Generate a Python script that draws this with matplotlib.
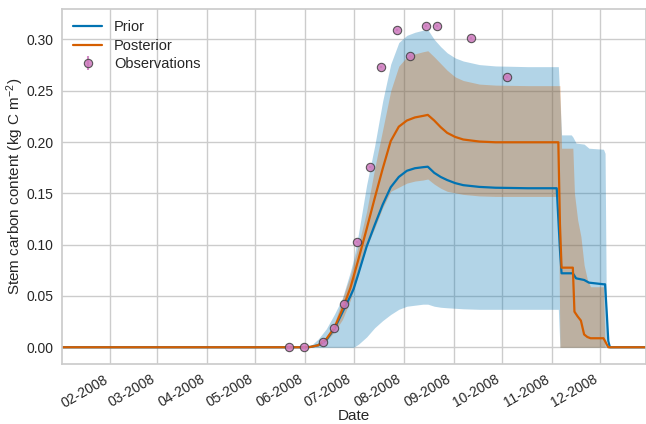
import matplotlib

matplotlib.use("Agg")
import matplotlib.dates as mdates
import matplotlib.pyplot as plt
import numpy as np
import pandas as pd
import seaborn as sns

# ---- data -----------------------------------------------------------------
START = pd.Timestamp("2008-01-01")

# prior ensemble: day offset from START, mean and 5-95 % envelope
prior_day = [1, 150, 155, 160, 165, 170, 175, 180, 182, 185, 190, 195, 200,
             205, 210, 215, 220, 225, 228, 232, 236, 240, 245, 250, 260, 270,
             290, 308, 309, 310, 311, 317, 318, 320, 325, 328, 337, 338, 339,
             340, 341, 364]
prior_mean = [0, 0, 0.0003, 0.002, 0.007, 0.018, 0.034, 0.050, 0.057, 0.072,
              0.098, 0.119, 0.139, 0.156, 0.166, 0.172, 0.1745, 0.1755, 0.176,
              0.170, 0.166, 0.163, 0.160, 0.158, 0.1563, 0.1555, 0.155, 0.155,
              0.125, 0.095, 0.0721, 0.0721, 0.0721, 0.0672, 0.0656, 0.063,
              0.0614, 0.0614, 0.035, 0.006, 0, 0]
prior_lo = [0, 0, 0, 0, 0, 0, 0, 0, 0, 0.003, 0.010, 0.019, 0.026, 0.032,
            0.037, 0.040, 0.041, 0.042, 0.042, 0.040, 0.039, 0.0385, 0.038,
            0.0375, 0.037, 0.037, 0.037, 0.037, 0.037, 0, 0, 0, 0, 0, 0, 0,
            0, 0, 0, 0, 0, 0]
prior_hi = [0, 0, 0.001, 0.008, 0.018, 0.032, 0.048, 0.074, 0.086, 0.111,
            0.158, 0.196, 0.240, 0.276, 0.297, 0.304, 0.307, 0.309, 0.3095,
            0.300, 0.293, 0.287, 0.282, 0.279, 0.2755, 0.2742, 0.2735, 0.2735,
            0.2735, 0.240, 0.207, 0.207, 0.205, 0.199, 0.198, 0.194, 0.193,
            0.189, 0, 0, 0, 0]

# posterior ensemble
post_day = [1, 150, 155, 160, 165, 170, 175, 180, 185, 190, 195, 200, 205,
            210, 215, 220, 225, 228, 232, 236, 240, 245, 250, 260, 270, 290,
            308, 309, 310, 311, 318, 319, 321, 323, 325, 327, 329, 336, 337,
            338, 340, 364]
post_mean = [0, 0, 0.0003, 0.002, 0.008, 0.019, 0.037, 0.058, 0.086, 0.115,
             0.145, 0.174, 0.201, 0.215, 0.221, 0.224, 0.2255, 0.2265, 0.221,
             0.2145, 0.209, 0.205, 0.2025, 0.2005, 0.1998, 0.1998, 0.1998,
             0.1998, 0.12, 0.0776, 0.0776, 0.0347, 0.030, 0.026, 0.0125,
             0.010, 0.0088, 0.0088, 0.0088, 0.006, 0, 0]
post_lo = [0, 0, 0.0001, 0.001, 0.006, 0.015, 0.027, 0.046, 0.072, 0.098,
           0.116, 0.136, 0.152, 0.156, 0.160, 0.162, 0.163, 0.164, 0.159,
           0.155, 0.152, 0.1505, 0.149, 0.1475, 0.147, 0.147, 0.147, 0.147,
           0, 0, 0, 0, 0, 0, 0, 0, 0, 0, 0, 0, 0, 0]
post_hi = [0, 0, 0.0005, 0.003, 0.010, 0.023, 0.047, 0.070, 0.100, 0.132,
           0.174, 0.212, 0.250, 0.274, 0.283, 0.286, 0.288, 0.289, 0.283,
           0.2765, 0.270, 0.2635, 0.260, 0.2565, 0.2555, 0.255, 0.255, 0.255,
           0.255, 0.194, 0.194, 0.150, 0.124, 0.108, 0.080, 0.066, 0.059,
           0.059, 0.059, 0, 0, 0]

# field observations of stem carbon
obs_date = ["2008-05-22", "2008-05-31", "2008-06-12", "2008-06-19",
            "2008-06-25", "2008-07-03", "2008-07-11", "2008-07-18",
            "2008-07-28", "2008-08-05", "2008-08-15", "2008-08-22",
            "2008-09-12", "2008-10-04"]
obs_val = [0.0, 0.0, 0.0055, 0.0188, 0.0419, 0.1023, 0.1754, 0.2729, 0.3093,
           0.2839, 0.3135, 0.3135, 0.3018, 0.2637]
obs_err = [0.001] * len(obs_val)

# ---- plot -----------------------------------------------------------------
sns.set_theme(style="whitegrid", palette="colorblind")
plt.rcParams["font.family"] = ["Liberation Sans", "DejaVu Sans"]
plt.rcParams["mathtext.default"] = "regular"

pal = sns.color_palette("colorblind")
c_prior, c_post, c_obs = pal[0], pal[3], pal[4]

fig = plt.figure(figsize=(6.46, 4.24), dpi=100)
ax = fig.add_axes([62 / 646, 60 / 424, 584 / 646, 354.7 / 424])

to_dates = lambda d: START + pd.to_timedelta(np.asarray(d), unit="D")
px = to_dates(prior_day)
qx = to_dates(post_day)

ax.fill_between(px, prior_lo, prior_hi, color=c_prior, alpha=0.3, lw=0)
ax.fill_between(qx, post_lo, post_hi, color=c_post, alpha=0.3, lw=0)
ax.plot(px, prior_mean, color=c_prior, lw=1.6, label="Prior")
ax.plot(qx, post_mean, color=c_post, lw=1.6, label="Posterior")
ax.errorbar(pd.to_datetime(obs_date), obs_val, yerr=obs_err, fmt="o",
            color=c_obs, ecolor=c_obs, mec="0.25", mew=0.8, ms=6,
            alpha=0.85, label="Observations", zorder=5)

ax.set_xlim(to_dates([1])[0], to_dates([363.4])[0])
ax.set_ylim(-0.0163, 0.3294)
ax.xaxis.set_major_locator(mdates.MonthLocator(bymonth=range(2, 13)))
ax.xaxis.set_major_formatter(mdates.DateFormatter("%m-%Y"))
ax.tick_params(axis="both", length=0, pad=6, labelsize=10)
plt.setp(ax.get_xticklabels(), rotation=30, ha="right")

ax.set_xlabel("Date", fontsize=11)
ax.set_ylabel("Stem carbon content (kg C m$^{-2}$)", fontsize=11)
ax.xaxis.set_label_coords(0.5, -0.128)
ax.yaxis.set_label_coords(-0.061, 0.5)
ax.legend(loc="upper left", frameon=False, fontsize=10.5,
          labelspacing=0.3, borderaxespad=0.35)

fig.savefig("out.png", dpi=100)
